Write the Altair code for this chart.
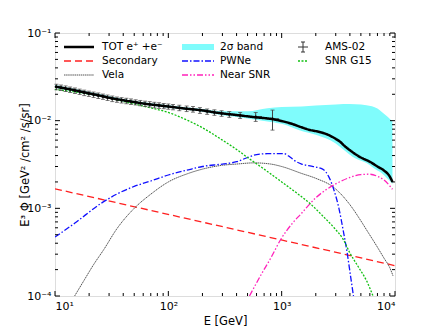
import altair as alt
import pandas as pd

# ---------------- data ----------------
tot_E = [10, 12, 15, 20, 25, 30, 40, 50, 60, 70, 80, 100, 130, 160, 200, 250, 300, 400, 500,
         600, 700, 800, 900, 1000, 1200, 1500, 1800, 2000, 2500, 3000, 3300, 3500, 4000, 5000,
         6000, 7000, 8000, 9000, 9500]
tot_V = [0.0245, 0.0235, 0.0222, 0.0205, 0.0193, 0.0183, 0.0171, 0.0163, 0.0157, 0.0153, 0.0150,
         0.0145, 0.0139, 0.0135, 0.0131, 0.0125, 0.0121, 0.0116, 0.0112, 0.0109, 0.0107, 0.0105,
         0.0102, 0.0099, 0.0093, 0.0084, 0.0078, 0.0076, 0.0070, 0.0062, 0.0057, 0.0053, 0.0046,
         0.0038, 0.0034, 0.0030, 0.0027, 0.0023, 0.0020]

band_E = [10, 20, 50, 100, 200, 300, 500, 750, 1000, 1500, 2000, 3000, 3500, 4500, 5600, 7000,
          7700, 8500, 9200, 9500]
band_hi = [0.0255, 0.0213, 0.0168, 0.0150, 0.0136, 0.0128, 0.0128, 0.0139, 0.0143, 0.0145, 0.0149,
           0.0153, 0.0155, 0.0154, 0.0150, 0.0138, 0.0125, 0.0112, 0.0102, 0.0098]
band_lo = [0.0237, 0.0198, 0.0158, 0.0140, 0.0126, 0.0115, 0.0106, 0.0098, 0.0092, 0.0076, 0.0069,
           0.0055, 0.0047, 0.0037, 0.0033, 0.0027, 0.0025, 0.0022, 0.0020, 0.0019]

sec_E = [10, 10000]
sec_V = [0.00167, 0.000222]

vela_E = [14.9, 18, 22, 27, 35, 50, 70, 100, 150, 200, 300, 400, 570, 800, 1000, 1500, 2000, 2900,
          4000, 5000, 5600, 7000, 8000, 9000, 9600]
vela_V = [0.0001, 0.00015, 0.00023, 0.00034, 0.00058, 0.00100, 0.00145, 0.0020, 0.0025, 0.0028,
          0.0031, 0.0032, 0.0033, 0.0032, 0.0030, 0.0025, 0.0022, 0.00172, 0.00110, 0.00072,
          0.00057, 0.00036, 0.00027, 0.00021, 0.00017]

pwn_E = [10, 15, 25, 35, 50, 70, 100, 150, 200, 300, 400, 500, 600, 750, 900, 1050, 1200, 1300,
         1500, 1900, 2300, 2600, 2900, 3200, 3500, 3800, 4050, 4300]
pwn_V = [0.00047, 0.00068, 0.00112, 0.00145, 0.00178, 0.00205, 0.00240, 0.00275, 0.0030, 0.0032,
         0.0034, 0.0038, 0.0041, 0.0042, 0.0042, 0.0042, 0.0038, 0.0035, 0.0032, 0.0030, 0.0028,
         0.0023, 0.0016, 0.0010, 0.00055, 0.00030, 0.00017, 0.0001]

near_E = [520, 650, 800, 1000, 1250, 1500, 2000, 2500, 3000, 4000, 5000, 6000, 7000, 8000, 9000,
          9500]
near_V = [0.0001, 0.00017, 0.00027, 0.00046, 0.00068, 0.00088, 0.00132, 0.00165, 0.00190,
          0.00225, 0.00243, 0.00245, 0.00232, 0.00210, 0.00180, 0.00165]

g15_E = [10, 15, 25, 35, 50, 70, 100, 150, 200, 300, 400, 500, 700, 1000, 1400, 1800, 2300, 2900,
         3500, 4000, 4800, 5600, 6400]
g15_V = [0.0228, 0.0212, 0.0192, 0.0173, 0.0155, 0.0140, 0.0124, 0.0100, 0.0083, 0.0060, 0.0047,
         0.0038, 0.0028, 0.0020, 0.00145, 0.00112, 0.00082, 0.00060, 0.00044, 0.00031, 0.00021,
         0.00015, 0.0001]

ams_E = [10.3, 11.3, 12.4, 13.6, 15.0, 16.5, 18.1, 19.9, 21.9, 24.1, 26.5, 29.1, 32.0, 35.2,
         38.7, 42.6, 46.8, 51.5, 56.6, 62.3, 68.5, 75.3, 82.8, 91.1, 100, 110, 125, 145, 165,
         190, 220, 255, 295, 345, 430, 590, 830]
ams_V = [0.0243, 0.0238, 0.0232, 0.0226, 0.0220, 0.0214, 0.0208, 0.0203, 0.0198, 0.0193, 0.0188,
         0.0183, 0.0178, 0.0174, 0.0171, 0.0168, 0.0165, 0.0162, 0.0159, 0.0156, 0.0154, 0.0151,
         0.0149, 0.0147, 0.0145, 0.0143, 0.0140, 0.0137, 0.0135, 0.0131, 0.0127, 0.0124, 0.0121,
         0.0118, 0.0115, 0.0111, 0.0105]
ams_err = [0.0018, 0.0017, 0.0017, 0.0016, 0.0016, 0.0015, 0.0015, 0.0014, 0.0014, 0.0014, 0.0013,
           0.0013, 0.0013, 0.0012, 0.0012, 0.0012, 0.0012, 0.0011, 0.0011, 0.0011, 0.0011, 0.0011,
           0.0011, 0.0010, 0.0010, 0.0010, 0.0010, 0.0010, 0.0010, 0.0010, 0.0009, 0.0009, 0.0009,
           0.0009, 0.0009, 0.0013, 0.0027]
ams_Elo = [9.9, 10.8, 11.9, 13.0, 14.3, 15.8, 17.3, 19.0, 21.0, 23.0, 25.3, 27.8, 30.5, 33.6,
           37.0, 40.7, 44.7, 49.2, 54.0, 59.5, 65.4, 71.9, 79.0, 87.0, 95.5, 104, 117, 136, 155,
           178, 205, 238, 275, 320, 390, 520, 730]
ams_Ehi = [10.8, 11.9, 13.0, 14.3, 15.8, 17.3, 19.0, 21.0, 23.0, 25.3, 27.8, 30.5, 33.6, 37.0,
           40.7, 44.7, 49.2, 54.0, 59.5, 65.4, 71.9, 79.0, 87.0, 95.5, 104, 117, 136, 155, 178,
           205, 238, 275, 320, 390, 470, 670, 950]

x_major = [10, 100, 1000, 10000]
x_minor = [m * 10 ** k for k in (1, 2, 3) for m in range(2, 10)]
y_major = [1e-4, 1e-3, 1e-2, 1e-1]
y_minor = [m * 10.0 ** k for k in (-4, -3, -2) for m in range(2, 10)]

legend_rows = [
    ("TOT e⁺ +e⁻", " Secondary", "Vela"),
    ("2σ band", "PWNe", "Near SNR"),
    ("AMS-02", "SNR G15", ""),
]

# ---------------- chart ----------------
W, H = 340, 263
FONT = "DejaVu Sans"
xs = alt.Scale(type="log", domain=[10, 10000], nice=False)
ys = alt.Scale(type="log", domain=[1e-4, 1e-1], nice=False)

def line_df(E, V):
    return pd.DataFrame({"E": E, "V": V})

def curve(E, V, color, dash, width):
    return alt.Chart(line_df(E, V)).mark_line(
        color=color, strokeDash=dash, strokeWidth=width, clip=True, interpolate="monotone"
    ).encode(x=alt.X("E:Q", scale=xs), y=alt.Y("V:Q", scale=ys))

band = alt.Chart(pd.DataFrame({"E": band_E, "lo": band_lo, "hi": band_hi})).mark_area(
    color="#7ffcfc", opacity=1, interpolate="monotone", clip=True
).encode(
    x=alt.X("E:Q", scale=xs,
            axis=alt.Axis(values=x_major, ticks=False, domain=False, grid=False,
                          labelExpr="datum.value==10?'10¹':datum.value==100?'10²':datum.value==1000?'10³':'10⁴'",
                          labelFont=FONT, labelFontSize=11, labelColor="black", labelPadding=4,
                          title="E [GeV]", titleFont=FONT, titleFontSize=11.5, titleFontWeight="normal",
                          titleColor="black", titlePadding=4)),
    y=alt.Y("lo:Q", scale=ys,
            axis=alt.Axis(values=y_major, ticks=False, domain=False, grid=False,
                          labelExpr="datum.value<0.0005?'10⁻⁴':datum.value<0.005?'10⁻³':datum.value<0.05?'10⁻²':'10⁻¹'",
                          labelFont=FONT, labelFontSize=11, labelColor="black", labelPadding=4,
                          title="E³ Φ [GeV² /cm² /s/sr]", titleFont=FONT, titleFontSize=11.5,
                          titleFontWeight="normal", titleColor="black",
                          titleX=-30, titleY=H / 2, titleBaseline="middle", titleAlign="center",
                          titleAngle=270)),
    y2="hi:Q",
)

ams = pd.DataFrame({"E": ams_E, "V": ams_V, "lo": [v - e for v, e in zip(ams_V, ams_err)],
                    "hi": [v + e for v, e in zip(ams_V, ams_err)], "Elo": ams_Elo, "Ehi": ams_Ehi})
ams_y = alt.Chart(ams).mark_rule(color="#444444", strokeWidth=1).encode(
    x=alt.X("E:Q", scale=xs), y=alt.Y("lo:Q", scale=ys), y2="hi:Q")
ams_x = alt.Chart(ams).mark_rule(color="#444444", strokeWidth=1).encode(
    x=alt.X("Elo:Q", scale=xs), x2="Ehi:Q", y=alt.Y("V:Q", scale=ys))
ams_cap_lo = alt.Chart(ams).mark_tick(color="#444444", thickness=1, size=4, orient="horizontal").encode(
    x=alt.X("E:Q", scale=xs), y=alt.Y("lo:Q", scale=ys))
ams_cap_hi = alt.Chart(ams).mark_tick(color="#444444", thickness=1, size=4, orient="horizontal").encode(
    x=alt.X("E:Q", scale=xs), y=alt.Y("hi:Q", scale=ys))
ams_pts = alt.Chart(ams).mark_point(color="black", filled=True, size=6, opacity=1).encode(
    x=alt.X("E:Q", scale=xs), y=alt.Y("V:Q", scale=ys))

layers = [
    band,
    curve(sec_E, sec_V, "#ff2020", [7, 4], 1.3),
    curve(vela_E, vela_V, "#555555", [1.5, 0.6], 1.0),
    curve(pwn_E, pwn_V, "#1010ff", [6, 2, 1.5, 2], 1.3),
    curve(near_E, near_V, "#ff22bb", [6, 2, 1.5, 2, 1.5, 2], 1.3),
    curve(g15_E, g15_V, "#10c010", [2, 1.5], 1.3),
    ams_x, ams_y, ams_cap_lo, ams_cap_hi,
    curve(tot_E, tot_V, "black", [1, 0], 2.5),
    ams_pts,
]

# inward ticks on all four sides
def xticks(vals, length):
    df = pd.DataFrame({"E": vals})
    bot = alt.Chart(df).mark_rule(color="black", strokeWidth=1).encode(
        x=alt.X("E:Q", scale=xs), y=alt.value(H), y2=alt.value(H - length))
    top = alt.Chart(df).mark_rule(color="black", strokeWidth=1).encode(
        x=alt.X("E:Q", scale=xs), y=alt.value(0), y2=alt.value(length))
    return [bot, top]

def yticks(vals, length):
    df = pd.DataFrame({"V": vals})
    lef = alt.Chart(df).mark_rule(color="black", strokeWidth=1).encode(
        y=alt.Y("V:Q", scale=ys), x=alt.value(0), x2=alt.value(length))
    rig = alt.Chart(df).mark_rule(color="black", strokeWidth=1).encode(
        y=alt.Y("V:Q", scale=ys), x=alt.value(W), x2=alt.value(W - length))
    return [lef, rig]

layers += xticks(x_major, 5) + xticks(x_minor, 3) + yticks(y_major, 5) + yticks(y_minor, 3)

# legend (3 columns)
col_x = [9, 127, 243]
row_y = [14, 28, 42]
sym_w = [30, 32, 10]
text_dx = [38, 38, 27]
styles = [
    [("line", "black", [1, 0], 2.5), ("line", "#ff2020", [7, 4], 1.3), ("line", "#555555", [1.5, 0.6], 1.0)],
    [("line", "#7ffcfc", [1, 0], 6), ("line", "#1010ff", [6, 2, 1.5, 2], 1.3),
     ("line", "#ff22bb", [6, 2, 1.5, 2, 1.5, 2], 1.3)],
    [("err", "black", [1, 0], 1), ("line", "#10c010", [2, 1.5], 1.3), None],
]
one = pd.DataFrame({"a": [0]})
for c in range(3):
    for r in range(3):
        st = styles[c][r]
        if st is None:
            continue
        kind, color, dash, w = st
        x0 = col_x[c]
        y0 = row_y[r]
        if kind == "line":
            layers.append(alt.Chart(one).mark_rule(color=color, strokeDash=dash, strokeWidth=w).encode(
                x=alt.value(x0), x2=alt.value(x0 + sym_w[c]), y=alt.value(y0)))
        else:
            xm = x0 + 5
            layers.append(alt.Chart(one).mark_rule(color="#333333", strokeWidth=1).encode(
                x=alt.value(xm - 5), x2=alt.value(xm + 5), y=alt.value(y0)))
            layers.append(alt.Chart(one).mark_rule(color="#333333", strokeWidth=1).encode(
                x=alt.value(xm), y=alt.value(y0 - 5), y2=alt.value(y0 + 5)))
            layers.append(alt.Chart(one).mark_rule(color="#333333", strokeWidth=1).encode(
                x=alt.value(xm - 2), x2=alt.value(xm + 2), y=alt.value(y0 - 5)))
            layers.append(alt.Chart(one).mark_rule(color="#333333", strokeWidth=1).encode(
                x=alt.value(xm - 2), x2=alt.value(xm + 2), y=alt.value(y0 + 5)))
        layers.append(alt.Chart(pd.DataFrame({"t": [legend_rows[c][r]]})).mark_text(
            align="left", baseline="middle", font=FONT, fontSize=10.5, color="black"
        ).encode(text="t:N", x=alt.value(x0 + text_dx[c]), y=alt.value(y0)))

chart = alt.layer(*layers).properties(
    width=W, height=H,
    autosize=alt.AutoSizeParams(type="none"),
    padding={"left": 47, "top": 25, "right": 30, "bottom": 30},
).configure_view(stroke="black", strokeWidth=1.2).configure(background="white")

chart.save("out.html", embed_options={"renderer": "svg", "actions": False})
